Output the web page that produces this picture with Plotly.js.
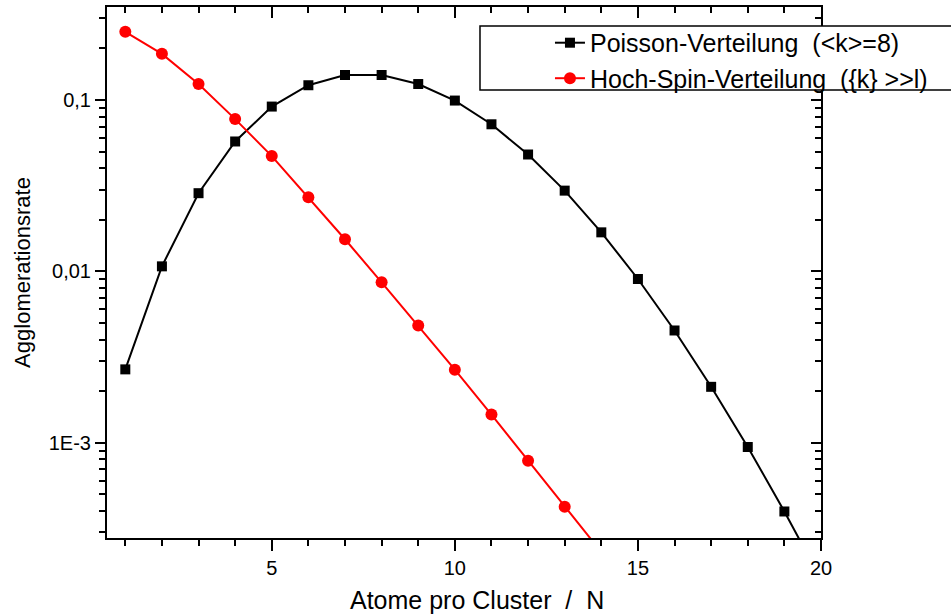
<!DOCTYPE html>
<html>
<head>
<meta charset="utf-8">
<script src="https://cdn.plot.ly/plotly-3.0.1.min.js"></script>
<style>html,body{margin:0;padding:0;background:#fff;}#chart{width:951px;height:614px;}</style>
</head>
<body>
<div id="chart"></div>
<script>
const atoms = [1,2,3,4,5,6,7,8,9,10,11,12,13,14,15,16,17,18,19,20];
const poisson = [0.00268,0.0107,0.0286,0.0573,0.0916,0.122,0.140,0.140,0.124,0.0993,0.0722,0.0481,0.0296,0.0169,0.00903,0.00452,0.00212,0.000944,0.000397,0.000159];
const hochAtoms = [1,2,3,4,5,6,7,8,9,10,11,12,13,14];
const hochSpin = [0.25,0.186,0.124,0.0774,0.0471,0.0271,0.0154,0.00863,0.00483,0.00267,0.00146,0.000785,0.000423,0.00023];
const xTickVals = [5,10,15,20];
const yTickVals = [0.001,0.01,0.1];
const yTickText = ['1E-3','0,01','0,1'];
const seriesNames = ['Poisson-Verteilung\u00a0\u00a0(<k>=8)','Hoch-Spin-Verteilung\u00a0\u00a0({k} >>l)'];
const xTitle = 'Atome pro Cluster\u00a0\u00a0/\u00a0\u00a0N';
const yTitle = 'Agglomerationsrate';

const yMinor = [];
for (let e = -4; e <= 0; e++) for (let m = 2; m <= 9; m++) yMinor.push(m * Math.pow(10, e));
const xMinor = atoms.slice();

const font = {family: '"Liberation Sans", Arial, sans-serif', color: '#000'};
const traces = [
  {x: atoms, y: poisson, name: seriesNames[0], mode: 'lines+markers', type: 'scatter',
   line: {color: '#000', width: 2}, marker: {symbol: 'square', size: 10, color: '#000'}},
  {x: hochAtoms, y: hochSpin, name: seriesNames[1], mode: 'lines+markers', type: 'scatter',
   line: {color: '#ff0000', width: 2}, marker: {symbol: 'circle', size: 12, color: '#ff0000'}},
  {x: [], y: [], xaxis: 'x2', yaxis: 'y2', type: 'scatter', mode: 'markers', showlegend: false, hoverinfo: 'skip'}
];
const xr = [0.5, 20];
const yr = [-3.556, -0.457];
const tickCommon = {tickcolor: '#000', tickwidth: 2, showline: true, linecolor: '#000', linewidth: 2, showgrid: false, zeroline: false};
const layout = {
  width: 951, height: 614,
  margin: {l: 107, r: 130, t: 7, b: 76},
  paper_bgcolor: '#fff', plot_bgcolor: '#fff',
  font: Object.assign({size: 20}, font),
  showlegend: true,
  legend: {x: 0.6204, y: 0.9756, xanchor: 'left', yanchor: 'top', bgcolor: 'rgba(0,0,0,0)', borderwidth: 0,
           font: Object.assign({size: 25}, font), tracegroupgap: 0},
  shapes: [{type: 'rect', xref: 'paper', yref: 'paper', x0: 0.5224, x1: 1.19, y0: 0.8437, y1: 0.9642,
            fillcolor: '#fff', line: {color: '#000', width: 1.5}, layer: 'above'}],
  annotations: [{text: xTitle, xref: 'paper', yref: 'paper', x: 0.518, y: -0.117, xanchor: 'center', yanchor: 'middle',
                 showarrow: false, font: Object.assign({size: 25}, font)}],
  xaxis: Object.assign({range: xr, tickmode: 'array', tickvals: xTickVals, ticks: 'outside', ticklen: 11,
          tickfont: Object.assign({size: 20}, font),
          minor: {tickmode: 'array', tickvals: xMinor, ticks: 'outside', ticklen: 6, tickwidth: 2, tickcolor: '#000', showgrid: false}}, tickCommon),
  xaxis2: Object.assign({range: xr, overlaying: 'x', side: 'top', anchor: 'y2', tickmode: 'array', tickvals: xTickVals, ticks: 'inside', ticklen: 11,
          showticklabels: false,
          minor: {tickmode: 'array', tickvals: xMinor, ticks: 'inside', ticklen: 6, tickwidth: 2, tickcolor: '#000', showgrid: false}}, tickCommon),
  yaxis: Object.assign({type: 'log', range: yr, tickmode: 'array', tickvals: yTickVals, ticktext: yTickText, ticks: 'outside', ticklen: 10,
          tickfont: Object.assign({size: 20}, font),
          minor: {tickmode: 'array', tickvals: yMinor, ticks: 'outside', ticklen: 6, tickwidth: 2, tickcolor: '#000', showgrid: false},
          title: {text: yTitle, font: Object.assign({size: 22}, font), standoff: 12}}, tickCommon),
  yaxis2: Object.assign({type: 'log', range: yr, overlaying: 'y', side: 'right', anchor: 'x2', tickmode: 'array', tickvals: yTickVals, ticks: 'inside', ticklen: 10,
          showticklabels: false,
          minor: {tickmode: 'array', tickvals: yMinor, ticks: 'inside', ticklen: 6, tickwidth: 2, tickcolor: '#000', showgrid: false}}, tickCommon)
};
Plotly.newPlot('chart', traces, layout, {displayModeBar: false, staticPlot: true});
</script>
</body>
</html>
